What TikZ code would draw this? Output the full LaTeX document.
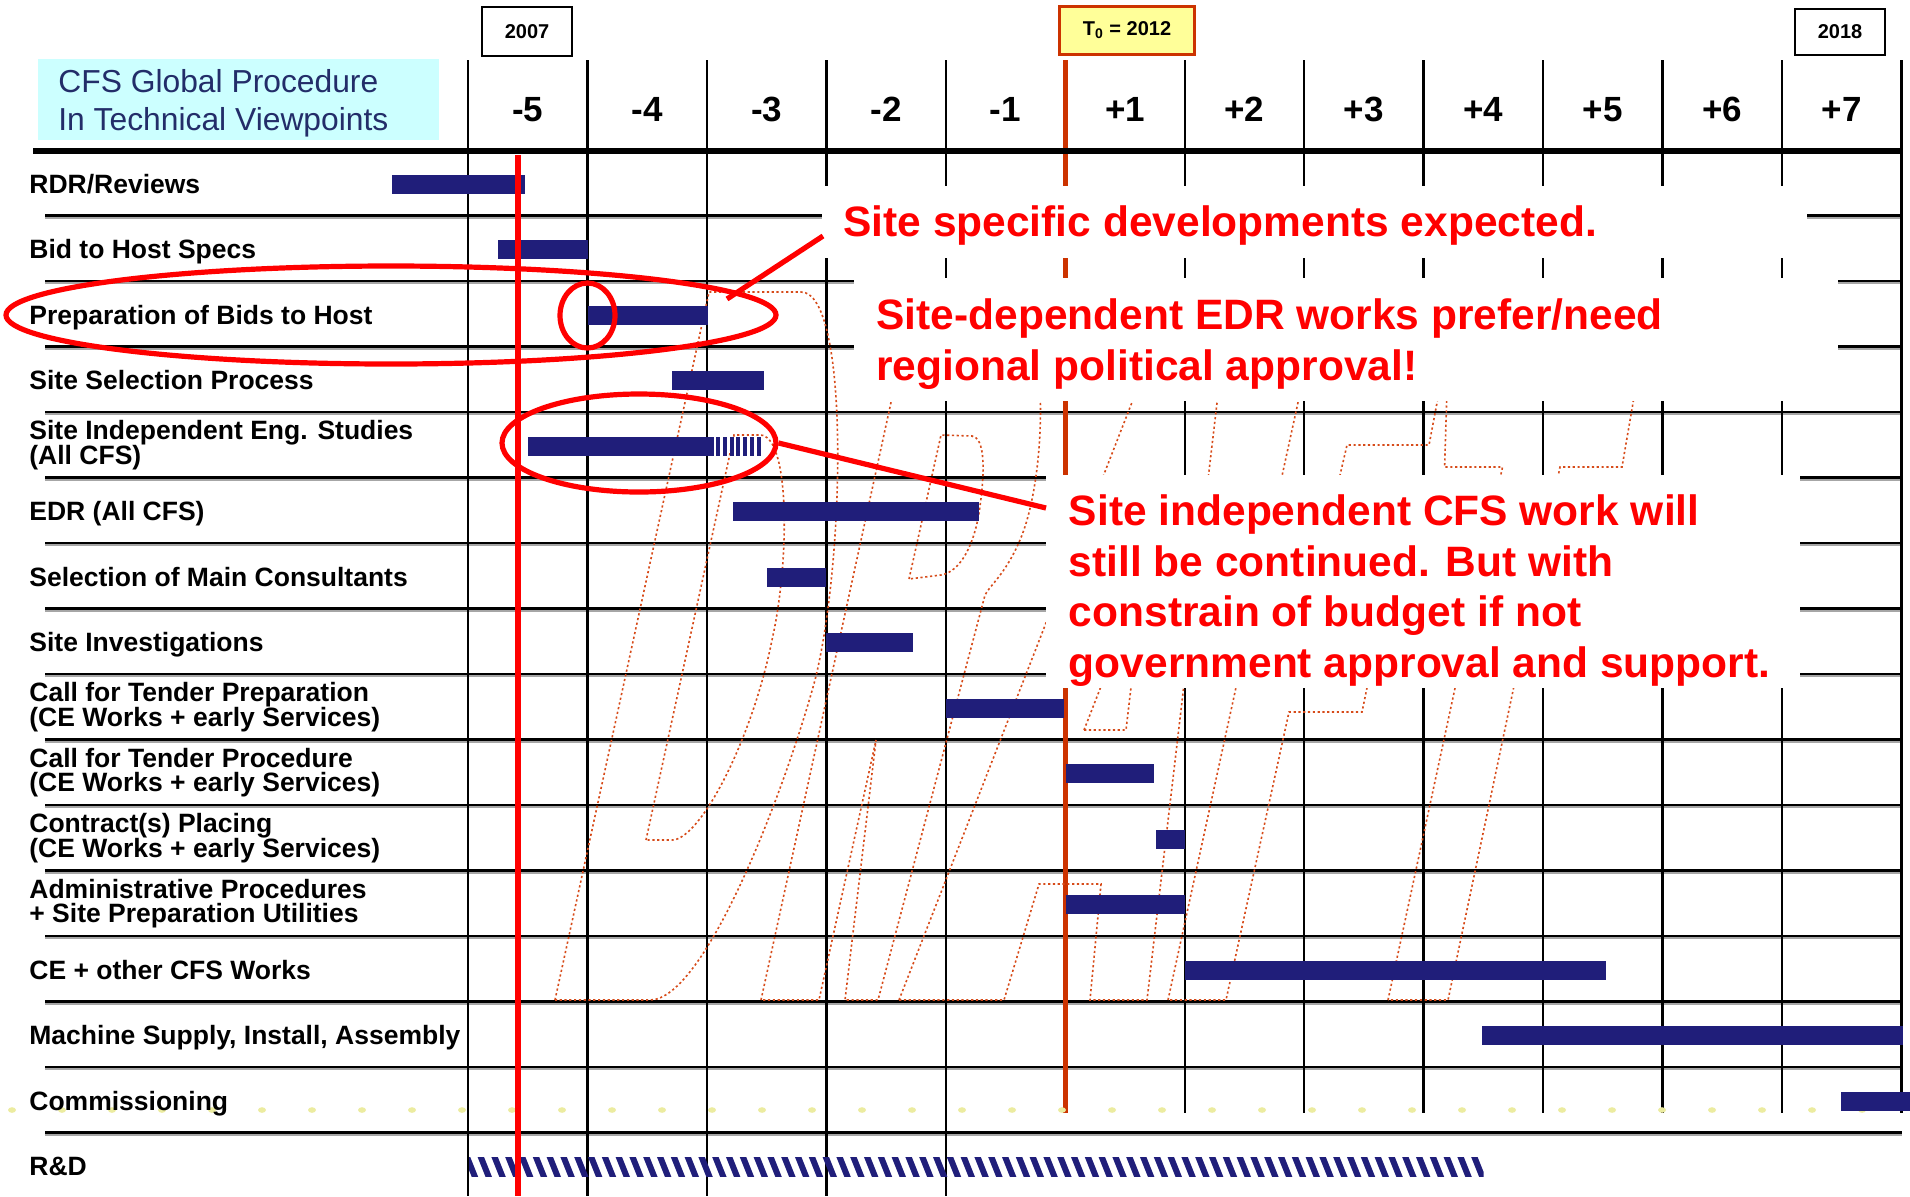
\documentclass[tikz,border=0pt]{standalone}
\usepackage{fontspec}
\setmainfont{Liberation Sans}
\usetikzlibrary{shapes.geometric}
\definecolor{navy}{RGB}{32,30,122}
\definecolor{tzero}{RGB}{204,51,0}
\definecolor{wmk}{RGB}{215,75,25}
\definecolor{titlebg}{RGB}{204,255,255}
\definecolor{titlefg}{RGB}{35,45,105}
\definecolor{yelbox}{RGB}{255,255,153}
\definecolor{dotyel}{RGB}{236,236,160}
\tikzset{
  rowln/.style={line width=1.25pt, black},
  rowsh/.style={line width=0.9pt, black!35},
  colln/.style={line width=1.2pt, black},
  lbl/.style={anchor=base west, inner sep=0pt, font=\fontsize{13.25pt}{14pt}\selectfont\bfseries},
  hdr/.style={anchor=base, inner sep=0pt, font=\fontsize{17.5pt}{18pt}\selectfont\bfseries},
  note/.style={anchor=base west, inner sep=0pt, text=red, font=\fontsize{21.25pt}{22pt}\selectfont\bfseries},
  ttl/.style={anchor=base west, inner sep=0pt, text=titlefg, font=\fontsize{15.9pt}{16pt}\selectfont},
  yrbox/.style={draw=black, line width=1.25pt, fill=white, inner sep=0pt, font=\fontsize{10pt}{11pt}\selectfont\bfseries},
  wbox/.style={fill=white, inner sep=0pt, anchor=north west},
  ring/.style={draw=red, line width=2.6pt, ellipse, inner sep=0pt},
  redln/.style={draw=red, line width=2.6pt},
  wm/.style={draw=wmk, line width=0.8pt, dash pattern=on 1.1pt off 1.3pt},
}
\begin{document}
\begin{tikzpicture}[x=0.5pt,y=-0.5pt]
\useasboundingbox (0,0) rectangle (1910,1196);
\fill[white] (0,0) rectangle (1910,1196);

% ---------- grid ----------
\foreach \k in {1,...,15}{
  \draw[rowsh] (45,{149.8+65.5*\k+2.4}) -- (1902,{149.8+65.5*\k+2.4});
  \draw[rowln] (45,{149.8+65.5*\k}) -- (1902,{149.8+65.5*\k});
}
\foreach \i in {0,...,4}{
  \draw[colln] ({468+119.45*\i},60) -- ({468+119.45*\i},1196);
}
\foreach \i in {6,...,12}{
  \draw[colln] ({468+119.45*\i},60) -- ({468+119.45*\i},1113);
}
\draw[tzero, line width=2.75pt] (1065.3,60) -- (1065.3,1113);
\draw[black, line width=2.85pt] (33,151) -- (1902,151);

% faint dotted band in commissioning row
\foreach \i in {0,...,37}{
  \fill[dotyel] ({12+50*\i},1110) ellipse [x radius=2pt, y radius=1.4pt];
}

% ---------- DRAFT watermark ----------
\draw[wm] (555,1000) -- (709,292) -- (801,292) .. controls (850,292) and (845,560) .. (815,680) .. controls (785,790) and (705,1000) .. (650,1000) -- cycle;
\draw[wm] (646,840) -- (734,435) -- (760,435) .. controls (790,435) and (790,560) .. (772,640) .. controls (752,740) and (700,840) .. (672,840) -- cycle;
\draw[wm] (761,1000) -- (915,292) -- (1000,292) .. controls (1050,292) and (1050,470) .. (1020,540) .. controls (1005,575) and (990,585) .. (985,595) -- (878,1000) -- (845,1000) -- (876,740) -- (819,1000) -- cycle;
\draw[wm] (909,579) -- (941,435) -- (972,436) .. controls (985,438) and (985,470) .. (980,506) .. controls (975,545) and (960,572) .. (941,575) -- cycle;
\draw[wm] (899,1000) -- (1175,292) -- (1230,292) -- (1147,1000) -- (1090,1000) -- (1101,884) -- (1039,884) -- (1004,1000) -- cycle;
\draw[wm] (1084,730) -- (1144,576) -- (1126,730) -- cycle;
\draw[wm] (1168,1000) -- (1322,292) -- (1458,292) -- (1429,445) -- (1347,445) -- (1311,600) -- (1385,600) -- (1362,712) -- (1289,712) -- (1226,1000) -- cycle;
\draw[wm] (1388,1000) -- (1502.5,467) -- (1444.6,467) -- (1450,292) -- (1652,292) -- (1622,467) -- (1560,467) -- (1448,1000) -- cycle;

% ---------- bars ----------
\foreach \r/\a/\b in {0/392/524.5, 1/498/588, 2/588/708, 3/672/764, 4/528/714, 5/733/979, 6/767/826, 7/826/913, 8/945.5/1064, 9/1066/1153.8, 10/1156/1185.4, 11/1066/1185.4, 12/1185.4/1606, 13/1482/1903, 14/1841/1910}{
  \fill[navy] (\a,{149.8+65.5*\r+25}) rectangle (\b,{149.8+65.5*\r+44});
}
\foreach \j in {0,...,6}{
  \fill[navy] ({716+6.8*\j},{149.8+65.5*4+25}) rectangle ({720+6.8*\j},{149.8+65.5*4+44});
}
\begin{scope}
  \clip (469,1157.3) rectangle (1483.5,1176.3);
  \foreach \h in {0,...,75}{
    \draw[navy, line width=3pt] ({452+13.8*\h},1154) -- ({462+13.8*\h},1179);
  }
\end{scope}

% ---------- white callout boxes ----------
\node[wbox, minimum width=492.5pt, minimum height=36pt] (box1) at (822,186) {};
\node[wbox, minimum width=492pt, minimum height=61.5pt] (box2) at (854,278) {};
\node[wbox, minimum width=377pt, minimum height=106.5pt] (box3) at (1046,475) {};

% ---------- header ----------
\fill[titlebg] (38,59) rectangle (439,140);
\node[ttl] (tt1) at (58,92) {CFS Global Procedure};
\node[ttl] (tt2) at (58,130) {In Technical Viewpoints};

\node[yrbox, minimum width=45pt, minimum height=24.5pt] (y2007) at (527,31.5) {2007};
\node[yrbox, draw=tzero, line width=1.5pt, fill=yelbox, minimum width=67.5pt, minimum height=24pt] (y2012) at (1127,30) {T\textsubscript{0} = 2012};
\node[yrbox, minimum width=45pt, minimum height=23pt] (y2018) at (1840,32) {2018};

\foreach \i/\t in {0/-5,1/-4,2/-3,3/-2,4/-1,5/+1,6/+2,7/+3,8/+4,9/+5,10/+6,11/+7}{
  \node[hdr] (h\i) at ({468+119.45*(\i+0.5)},121) {\t};
}

% ---------- row labels ----------
\node[lbl] (l0) at (29,193.1) {RDR/Reviews};
\node[lbl] (l1) at (29,258.6) {Bid to Host Specs};
\node[lbl] (l2) at (29,324.1) {Preparation of Bids to Host};
\node[lbl] (l3) at (29,389.6) {Site Selection Process};
\node[lbl] (l4a) at (29,439.8) {Site Independent Eng. Studies};
\node[lbl] (l4b) at (29,464.1) {(All CFS)};
\node[lbl] (l5) at (29,520.6) {EDR (All CFS)};
\node[lbl] (l6) at (29,586.1) {Selection of Main Consultants};
\node[lbl] (l7) at (29,651.6) {Site Investigations};
\node[lbl] (l8a) at (29,701.8) {Call for Tender Preparation};
\node[lbl] (l8b) at (29,726.1) {(CE Works + early Services)};
\node[lbl] (l9a) at (29,767.3) {Call for Tender Procedure};
\node[lbl] (l9b) at (29,791.6) {(CE Works + early Services)};
\node[lbl] (l10a) at (29,832.8) {Contract(s) Placing};
\node[lbl] (l10b) at (29,857.1) {(CE Works + early Services)};
\node[lbl] (l11a) at (29,898.3) {Administrative Procedures};
\node[lbl] (l11b) at (29,922.6) {+ Site Preparation Utilities};
\node[lbl] (l12) at (29,979.1) {CE + other CFS Works};
\node[lbl] (l13) at (29,1044.6) {Machine Supply, Install, Assembly};
\node[lbl] (l14) at (29,1110.1) {Commissioning};
\node[lbl] (l15) at (29,1175.6) {R\&D};

% ---------- red notes ----------
\node[note] (n1) at (843,236) {Site specific developments expected.};
\node[note] (n2a) at (876,329) {Site-dependent EDR works prefer/need};
\node[note] (n2b) at (876,380) {regional political approval!};
\node[note] (n3a) at (1068.5,525) {Site independent CFS work will};
\node[note] (n3b) at (1068.5,576) {still be continued. But with};
\node[note] (n3c) at (1068.5,626.5) {constrain of budget if not};
\node[note] (n3d) at (1068.5,677) {government approval and support.};

% ---------- red marks ----------
\draw[red, line width=2.9pt] (518,155) -- (518,1196);
\node[ring, minimum width=385pt, minimum height=49pt] (e1) at (391,315) {};
\node[ring, minimum width=27.5pt, minimum height=32.5pt] (e2) at (587.5,315.5) {};
\node[ring, minimum width=137pt, minimum height=49pt] (e3) at (639,443) {};
\coordinate (p1) at (727,299);
\coordinate (q1) at (823,236);
\coordinate (q3) at (1046,508);
\draw[redln] (p1) -- (q1);
\draw[redln] (e3.east) -- (q3);
\end{tikzpicture}
\end{document}
